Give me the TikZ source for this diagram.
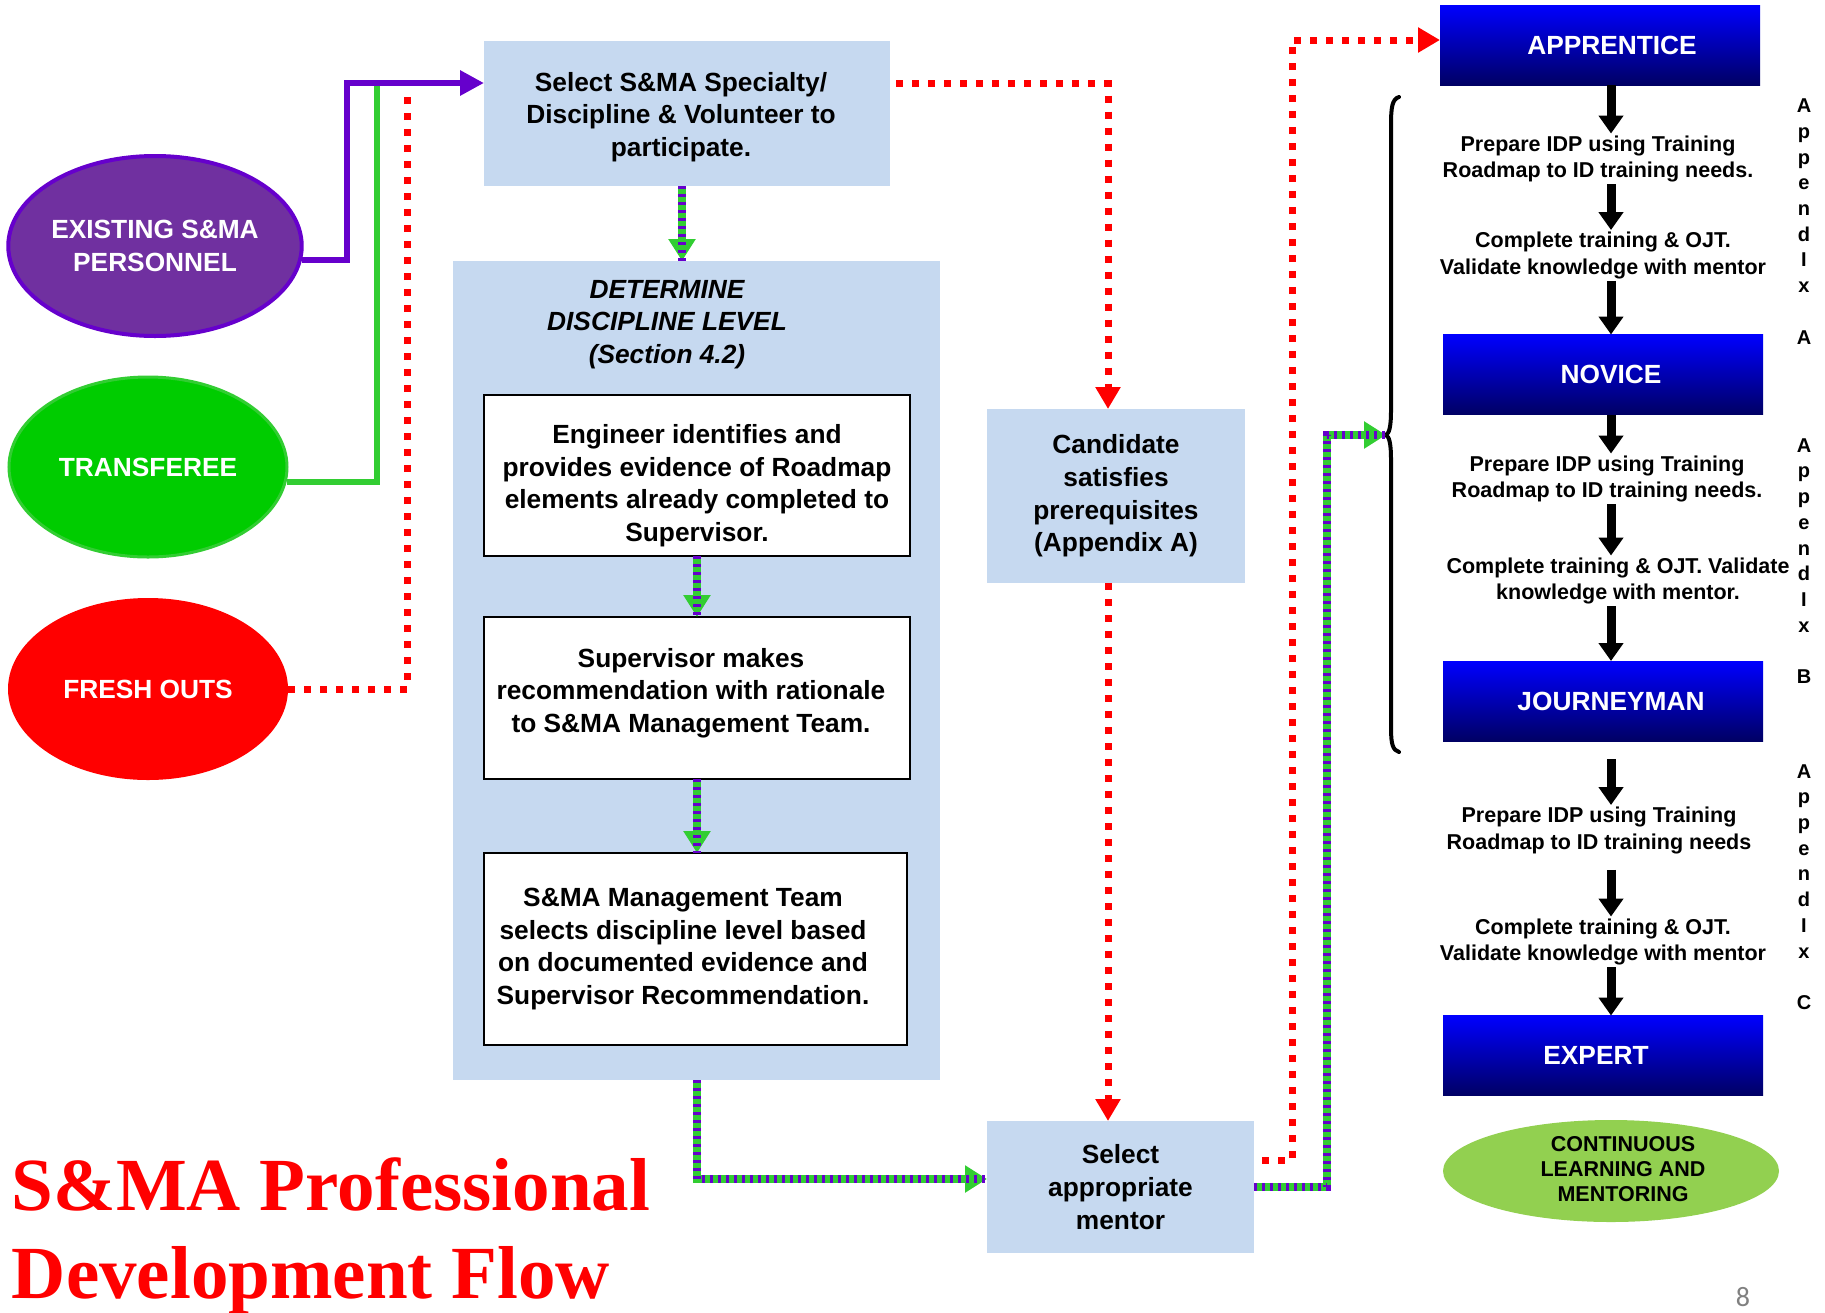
\documentclass[tikz,border=0pt]{standalone}
\usepackage{fontspec}
\setmainfont{Liberation Sans}
\newfontfamily\titlefont{Liberation Serif}
\newfontfamily\numfont{Carlito}
\usetikzlibrary{arrows.meta,shapes.geometric,calc}
\definecolor{lblue}{RGB}{198,217,240}
\definecolor{pur}{RGB}{102,0,204}
\definecolor{purfill}{RGB}{112,48,160}
\definecolor{grn}{RGB}{50,205,50}
\definecolor{grnfill}{RGB}{0,204,0}
\definecolor{navyb}{RGB}{0,0,100}
\definecolor{lgreen}{RGB}{146,208,80}
\begin{document}
\begin{tikzpicture}[x=1pt,y=-1pt,
  every node/.style={inner sep=0pt, outer sep=0pt},
  fbig/.style={font=\fontsize{26.3}{32.6}\selectfont\bfseries},
  fsmall/.style={font=\fontsize{21.5}{26.8}\selectfont\bfseries},
  bluebox/.style={fill=lblue, align=center, fbig},
  wbox/.style={draw=black, line width=1.5pt, fill=white},
  btxt/.style={align=center, fbig},
  lvlbox/.style={top color=blue, bottom color=navyb, text=white, fbig, minimum width=320pt, minimum height=80pt},
  ell/.style={ellipse, text=white, fbig, align=center},
  stxt/.style={fsmall, align=center, inner sep=2pt},
  apx/.style={font=\fontsize{20}{25.7}\selectfont\bfseries, align=center},
  blk/.style={line width=9pt, -{Triangle[width=24pt,length=18pt]}},
  reddot/.style={red, line width=7pt, dash pattern=on 7pt off 9pt},
  redarrow/.style={-{Triangle[width=24pt,length=22pt]}},
  gp/.style={draw=grn, line width=8pt, -{Triangle[width=26pt,length=22pt]},
    postaction={draw=pur, line width=8pt, dash pattern=on 3pt off 5pt, arrows=-}}
]
\useasboundingbox (0,0) rectangle (1825,1312);

% left ellipses
\node[ell, fill=purfill, draw=pur, line width=4pt, minimum width=290pt, minimum height=180pt] (ex) at (155,246) {EXISTING S\&MA\\PERSONNEL};
\node[ell, fill=grnfill, draw=grn, line width=3pt, minimum width=278pt, minimum height=180pt] (tr) at (148,467) {TRANSFEREE};
\node[ell, fill=red, minimum width=280pt, minimum height=182pt] (fo) at (148,689) {FRESH OUTS};

% middle boxes
\node[fill=lblue, minimum width=406pt, minimum height=145pt] (sel) at (687,113.5) {};
\node[btxt] (selt) at (681,117) {Select S\&MA Specialty/\\Discipline \& Volunteer to\\participate.};
\node[fill=lblue, minimum width=487pt, minimum height=819pt] (det) at (696.5,670.5) {};
\node[font=\fontsize{26.3}{32.6}\selectfont\bfseries\itshape, align=center] (dett) at (667,324.5) {DETERMINE\\DISCIPLINE LEVEL\\(Section 4.2)};
\node[wbox, minimum width=426pt, minimum height=161pt] (b1) at (697,475.5) {};
\node[btxt] (b1t) at (697,485.5) {Engineer identifies and\\provides evidence of Roadmap\\elements already completed to\\Supervisor.};
\node[wbox, minimum width=426pt, minimum height=162pt] (b2) at (697,698) {};
\node[btxt] (b2t) at (691,693) {Supervisor makes\\recommendation with rationale\\to S\&MA Management Team.};
\node[wbox, minimum width=423pt, minimum height=192pt] (b3) at (695.5,949) {};
\node[btxt] (b3t) at (683,949) {S\&MA Management Team\\selects discipline level based\\on documented evidence and\\Supervisor Recommendation.};
\node[bluebox, minimum width=258pt, minimum height=174pt] (cand) at (1116,496) {Candidate\\satisfies\\prerequisites\\(Appendix A)};
\node[bluebox, minimum width=267pt, minimum height=132pt] (ment) at (1120.5,1187) {Select\\appropriate\\mentor};

% right column
\node[lvlbox] (app) at (1600,45) {\hspace*{24pt}APPRENTICE};
\node[stxt] (t1) at (1598,159) {Prepare IDP using Training\\Roadmap to ID training needs.};
\node[stxt] (t2) at (1603,255.5) {Complete training \& OJT.\\Validate knowledge with mentor};
\node[lvlbox] (nov) at (1603,374.5) {\hspace*{16pt}NOVICE};
\node[stxt] (t3) at (1607,479) {Prepare IDP using Training\\Roadmap to ID training needs.};
\node[stxt] (t4) at (1618,581) {Complete training \& OJT. Validate\\knowledge with mentor.};
\node[lvlbox] (jou) at (1603,701) {\hspace*{16pt}JOURNEYMAN};
\node[stxt] (t5) at (1599,830.5) {Prepare IDP using Training\\Roadmap to ID training needs};
\node[stxt] (t6) at (1603,942) {Complete training \& OJT.\\Validate knowledge with mentor};
\node[lvlbox] (exp) at (1603,1055.5) {EXPERT\hspace*{14pt}};
\node[ellipse, fill=lgreen, minimum width=336pt, minimum height=102pt] (cont) at (1611,1171) {};
\node[font=\fontsize{21.5}{25}\selectfont\bfseries, align=center] (contt) at (1623,1169) {CONTINUOUS\\LEARNING AND\\MENTORING};

\node[apx] (apA) at (1804,221.5) {A\\p\\p\\e\\n\\d\\I\\x\\[25.7pt]A};
\node[apx] (apB) at (1804,561) {A\\p\\p\\e\\n\\d\\I\\x\\[25.7pt]B};
\node[apx] (apC) at (1804,887) {A\\p\\p\\e\\n\\d\\I\\x\\[25.7pt]C};

\def\ax{1611}
\draw[blk] (app.south -| \ax,0) -- (t1.north -| \ax,0);
\draw[blk] (t1.south -| \ax,0) -- (t2.north -| \ax,0);
\draw[blk] (t2.south -| \ax,0) -- (nov.north -| \ax,0);
\draw[blk] (nov.south -| \ax,0) -- (t3.north -| \ax,0);
\draw[blk] (t3.south -| \ax,0) -- (t4.north -| \ax,0);
\draw[blk] (t4.south -| \ax,0) -- (jou.north -| \ax,0);
\draw[blk, shorten <=18pt] (jou.south -| \ax,0) -- (t5.north -| \ax,0);
\draw[blk, shorten <=14pt] (t5.south -| \ax,0) -- (t6.north -| \ax,0);
\draw[blk] (t6.south -| \ax,0) -- (exp.north -| \ax,0);

% brace
\coordinate (brtip) at (1386,435);
\draw[line width=4pt, line cap=round] (1399,97) .. controls (1392,99) and (1391,108) .. (1391,125) -- (1391,410) .. controls (1391,428) and (1389,433) .. (brtip) .. controls (1389,437) and (1391,442) .. (1391,460) -- (1391,728) .. controls (1391,745) and (1393,750) .. (1399,752);

% left connectors
\coordinate (gtop) at (377,80);
\coordinate (rtop) at (407,93);
\coordinate (pbend) at (347,83);
\draw[grn, line width=6pt] ([yshift=-15pt]tr.east) -| (gtop);
\draw[reddot] (fo.east) -| (rtop);
\draw[pur, line width=6pt, -{Triangle[width=24pt,length=24pt]}] ([yshift=-14pt]ex.east) -| (pbend) -- (sel.west |- pbend);

% red dotted
\draw[reddot, redarrow] ([xshift=6pt,yshift=30pt]sel.east) -| ([xshift=-8pt]cand.north);
\draw[reddot, redarrow] ([xshift=-8pt]cand.south) -- ([xshift=-8pt]cand.south |- ment.north);
\draw[reddot, redarrow] ([xshift=8pt,yshift=27pt]ment.east) -- ++(30,0) |- ([yshift=5pt]app.west);

% green/purple
\draw[gp] ([xshift=-5pt]sel.south) -- ([xshift=-5pt]sel.south |- det.north);
\draw[gp] (b1.south) -- (b2.north);
\draw[gp] (b2.south) -- (b2.south |- b3.north);
\draw[gp] (det.south) |- ([yshift=8pt]ment.west);
\draw[gp] (ment.east) -- ++(73,0) |- (brtip);

% title and page number
\node[anchor=base west, text=red, font=\titlefont\fontsize{75}{88}\selectfont\bfseries] (ttl1) at (12,1210) {S\&MA Professional};
\node[anchor=base west, text=red, font=\titlefont\fontsize{75}{88}\selectfont\bfseries] (ttl2) at (12,1298) {Development Flow};
\node[font=\numfont\fontsize{28}{30}\selectfont, text=gray] (pg) at (1743,1297) {8};
\end{tikzpicture}
\end{document}
